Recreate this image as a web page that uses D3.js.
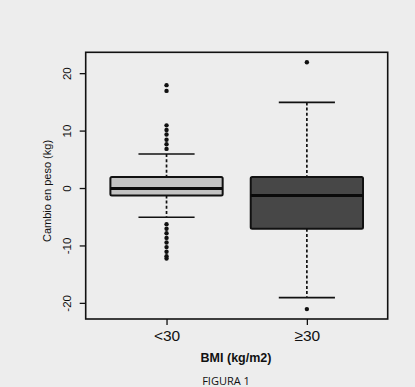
<!DOCTYPE html>
<html>
<head>
<meta charset="utf-8">
<script src="https://cdn.jsdelivr.net/npm/d3@7"></script>
<style>
  body { margin: 0; background: #ededed; }
  svg { display: block; }
  text { font-family: "Liberation Sans", Arial, sans-serif; fill: #111; }
</style>
</head>
<body>
<svg id="chart" width="415" height="387"></svg>
<script>
// box plot summary values
let categories = ['<30', '≥30'];
let q1 = [-1.2, -7];
let median = [0, -1.2];
let q3 = [2, 2];
let whiskLow = [-5, -19];
let whiskHigh = [6, 15];
let outliers = [
  [18, 17, 11, 10.2, 9.4, 8.5, 7.7, 6.9, -6.2, -7, -7.8, -8.6, -9.4, -10.2, -11, -11.8, -12.2],
  [22, -21]
];
let boxFill = ['#c2c2c2', '#474747'];
let yTicks = [-20, -10, 0, 10, 20];

let svg = d3.select('#chart');
let plotLeft = 85.7, plotRight = 387.7, plotTop = 52.3, plotBottom = 319;

// R style: extend the data range by 4% each side
let allVals = whiskLow.concat(whiskHigh, outliers.flat());
let lo = d3.min(allVals), hi = d3.max(allVals);
let pad = (hi - lo) * 0.04;

let yScale = d3.scaleLinear()
  .domain([lo - pad, hi + pad])
  .range([plotBottom, plotTop]);

let xScale = d3.scalePoint()
  .domain(categories)
  .range([plotLeft, plotRight])
  .padding(0.576);

let step = xScale.step();
let boxW = step * 0.8;
let capW = boxW / 2;

// y axis (plain hyphen for negatives, like R)
let yAxis = d3.axisLeft(yScale).tickValues(yTicks).tickFormat(d => String(d))
  .tickSize(6).tickSizeOuter(0);
let gy = svg.append('g')
  .attr('transform', `translate(${plotLeft},0)`)
  .call(yAxis);
gy.select('.domain').remove();
gy.selectAll('.tick').attr('transform', null);
gy.selectAll('line')
  .attr('y1', d => yScale(d)).attr('y2', d => yScale(d))
  .attr('stroke', '#111').attr('stroke-width', 1.3);
gy.selectAll('text')
  .attr('transform', d => `translate(-19,${yScale(d)}) rotate(-90)`)
  .attr('x', 0).attr('y', 0).attr('dy', '0.35em')
  .style('text-anchor', 'middle')
  .style('font-size', '11.5px')
  .style('font-family', '"Liberation Sans", Arial, sans-serif');

// x axis
let xAxis = d3.axisBottom(xScale).tickSize(6).tickSizeOuter(0);
let gx = svg.append('g')
  .attr('transform', `translate(0,${plotBottom})`)
  .call(xAxis);
gx.select('.domain').remove();
gx.selectAll('line').attr('stroke', '#111').attr('stroke-width', 1.3);
gx.selectAll('text')
  .attr('y', 11)
  .style('font-size', '15.5px')
  .style('font-family', '"Liberation Sans", Arial, sans-serif');

// boxes
let groups = svg.append('g').selectAll('g')
  .data(categories)
  .enter()
  .append('g');

// whiskers (dashed)
groups.append('line')
  .attr('x1', d => xScale(d)).attr('x2', d => xScale(d))
  .attr('y1', (d, i) => yScale(whiskHigh[i]))
  .attr('y2', (d, i) => yScale(q3[i]))
  .attr('stroke', '#111').attr('stroke-width', 1.7).attr('stroke-dasharray', '3,2.2');
groups.append('line')
  .attr('x1', d => xScale(d)).attr('x2', d => xScale(d))
  .attr('y1', (d, i) => yScale(q1[i]))
  .attr('y2', (d, i) => yScale(whiskLow[i]))
  .attr('stroke', '#111').attr('stroke-width', 1.7).attr('stroke-dasharray', '3,2.2');

// caps
for (let key of ['high', 'low']) {
  groups.append('line')
    .attr('x1', d => xScale(d) - capW / 2)
    .attr('x2', d => xScale(d) + capW / 2)
    .attr('y1', (d, i) => yScale(key == 'high' ? whiskHigh[i] : whiskLow[i]))
    .attr('y2', (d, i) => yScale(key == 'high' ? whiskHigh[i] : whiskLow[i]))
    .attr('stroke', '#111').attr('stroke-width', 1.6);
}

groups.append('rect')
  .attr('x', d => xScale(d) - boxW / 2)
  .attr('width', boxW)
  .attr('y', (d, i) => yScale(q3[i]))
  .attr('height', (d, i) => yScale(q1[i]) - yScale(q3[i]))
  .attr('rx', 1.5)
  .attr('fill', (d, i) => boxFill[i])
  .attr('stroke', '#111').attr('stroke-width', 2);

groups.append('line')
  .attr('x1', d => xScale(d) - boxW / 2)
  .attr('x2', d => xScale(d) + boxW / 2)
  .attr('y1', (d, i) => yScale(median[i]))
  .attr('y2', (d, i) => yScale(median[i]))
  .attr('stroke', '#0a0a0a').attr('stroke-width', 3);

// outliers
groups.selectAll('circle')
  .data((d, i) => outliers[i].map(v => ({cat: d, v: v})))
  .enter()
  .append('circle')
  .attr('cx', d => xScale(d.cat))
  .attr('cy', d => yScale(d.v))
  .attr('r', 2.2)
  .attr('fill', '#111');

// frame
svg.append('rect')
  .attr('x', plotLeft).attr('y', plotTop)
  .attr('width', plotRight - plotLeft).attr('height', plotBottom - plotTop)
  .attr('fill', 'none').attr('stroke', '#111').attr('stroke-width', 1.6);

// labels
svg.append('text')
  .attr('transform', `translate(47,191) rotate(-90)`)
  .attr('text-anchor', 'middle')
  .attr('dy', '0.35em')
  .style('font-size', '11px')
  .text('Cambio en peso (kg)');

svg.append('text')
  .attr('x', 236).attr('y', 362)
  .attr('text-anchor', 'middle')
  .style('font-size', '12.5px').style('font-weight', 'bold')
  .text('BMI (kg/m2)');

svg.append('text')
  .attr('x', 226).attr('y', 385)
  .attr('text-anchor', 'middle')
  .style('font-size', '11px')
  .style('font-family', '"Open Sans", "Noto Sans", sans-serif')
  .text('FIGURA 1');
</script>
</body>
</html>
